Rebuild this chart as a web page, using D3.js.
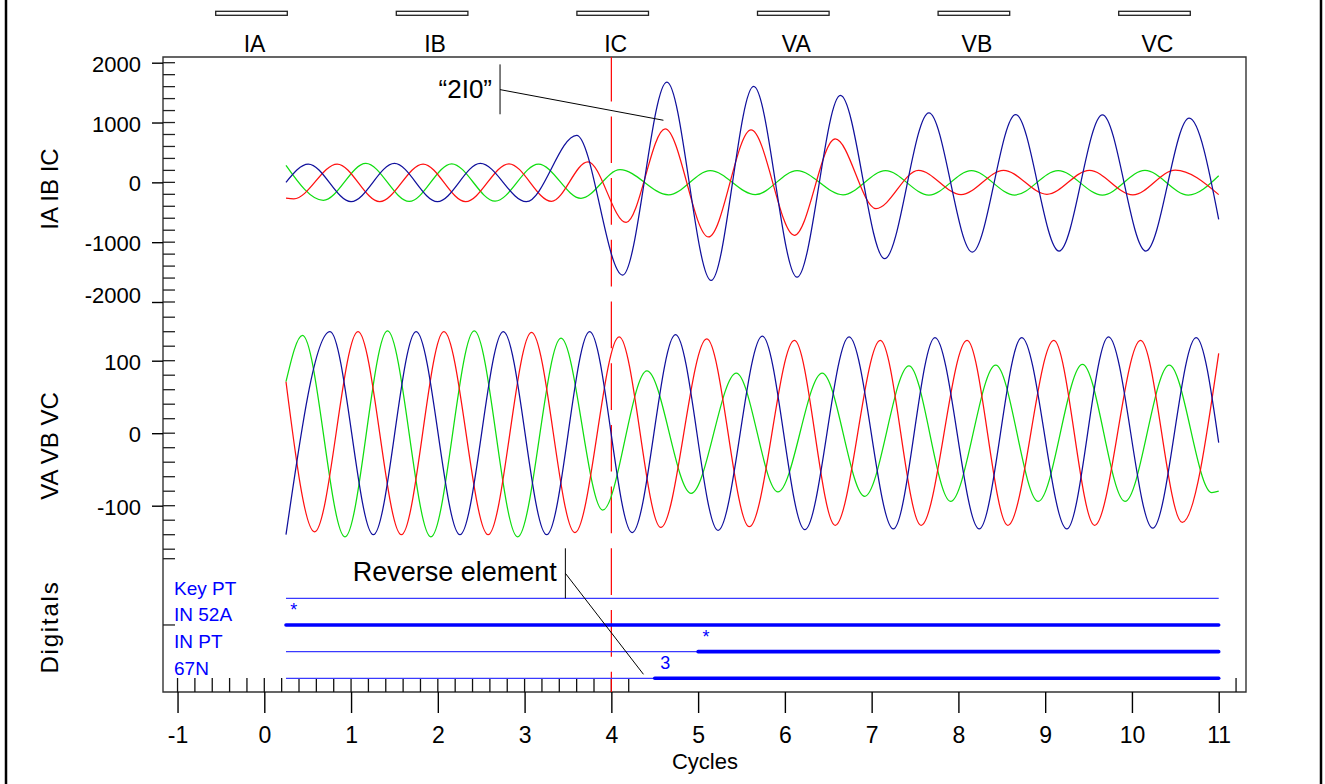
<!DOCTYPE html>
<html>
<head>
<meta charset="utf-8">
<script src="https://cdn.jsdelivr.net/npm/d3@7"></script>
<style>
  body { margin: 0; background: #fff; }
  svg { display: block; font-family: "Liberation Sans", Arial, sans-serif; }
</style>
</head>
<body>
<script>
const w = 1325;
const h = 784;

// channel names and tick labels
const legendLabels = ["IA", "IB", "IC", "VA", "VB", "VC"];
const currentTicks = [2000, 1000, 0, -1000, -2000];
const voltageTicks = [100, 0, -100];
const cycleTicks = [-1, 0, 1, 2, 3, 4, 5, 6, 7, 8, 9, 10, 11];
const digitalNames = ["Key PT", "IN 52A", "IN PT", "67N"];
const triggerCycle = 4;

// waveform peaks / troughs: [cycle, value]
const iaCurrent = [[0.25, -265], [0.34, -275], [0.84, 305], [1.33, -323], [1.83, 305], [2.32, -323],
  [2.82, 310], [3.31, -318], [3.73, 343], [4.17, -670], [4.62, 893], [5.12, -913], [5.61, 877],
  [6.11, -885], [6.58, 725], [7.05, -438], [7.54, 200], [8.03, -205], [8.52, 200], [9.02, -200],
  [9.51, 200], [10.01, -210], [10.5, 205], [11.0, -205]];
const ibCurrent = [[0.25, 285], [0.68, -300], [1.17, 316], [1.67, -320], [2.16, 310], [2.66, -315],
  [3.16, 305], [3.65, -267], [4.1, 212], [4.66, -208], [5.14, 195], [5.66, -205], [6.14, 195],
  [6.67, -208], [7.16, 195], [7.66, -212], [8.15, 195], [8.65, -212], [9.15, 195], [9.66, -212],
  [10.15, 200], [10.65, -212], [11.0, 110]];
const icCurrent = [[0.25, 0], [0.507, 305], [1.0, -323], [1.5, 316], [1.995, -323], [2.49, 316],
  [3.02, -323], [3.6, 787], [4.13, -1550], [4.64, 1677], [5.15, -1640], [5.64, 1603], [6.14, -1585],
  [6.64, 1452], [7.15, -1277], [7.66, 1162], [8.16, -1165], [8.66, 1133], [9.16, -1148],
  [9.66, 1128], [10.16, -1148], [10.66, 1072], [11.0, -617]];

const vaVoltage = [[0.25, 71], [0.58, -136], [1.08, 140], [1.58, -140], [2.07, 140], [2.58, -140],
  [3.08, 139], [3.58, -137], [4.09, 133], [4.57, -130], [5.1, 130], [5.59, -129], [6.11, 128],
  [6.58, -127], [7.1, 128], [7.57, -127], [8.1, 128], [8.57, -127], [9.1, 128], [9.57, -127],
  [10.1, 128], [10.58, -123], [11.0, 110]];
const vbVoltage = [[0.25, 71], [0.44, 135], [0.93, -143], [1.42, 141], [1.92, -143], [2.42, 141],
  [2.92, -143], [3.42, 131], [3.9, -106], [4.41, 86], [4.92, -83], [5.44, 83], [5.92, -81],
  [6.43, 83], [6.92, -87], [7.43, 93], [7.91, -94], [8.43, 94], [8.92, -94], [9.43, 95],
  [9.92, -94], [10.43, 94], [10.92, -82], [11.0, -80]];
const vcVoltage = [[0.25, -140], [0.757, 140], [1.257, -140], [1.75, 140], [2.255, -140],
  [2.755, 140], [3.255, -140], [3.75, 140], [4.24, -137], [4.74, 136], [5.23, -134], [5.74, 134],
  [6.23, -133], [6.74, 133], [7.25, -132], [7.73, 132], [8.24, -132], [8.73, 132], [9.25, -132],
  [9.73, 133], [10.24, -131], [10.74, 132], [11.0, -13]];

// digital elements: [from, to, asserted]
const digitalStates = [
  [[0.25, 11, 0]],
  [[0.25, 11, 1]],
  [[0.25, 5, 0], [5, 11, 1]],
  [[0.25, 4.5, 0], [4.5, 11, 1]]
];
const digitalMarks = [
  { name: "IN 52A", t: 0.34, text: "*" },
  { name: "IN PT", t: 5.09, text: "*" },
  { name: "67N", t: 4.62, text: "3" }
];

const plot = { left: 163, right: 1246, top: 57, bottom: 692 };
const waveColors = { a: "#ff1010", b: "#10dd10", c: "#10109c" };
const plainNumber = d => String(d);

const svg = d3
  .select("body")
  .append("svg")
  .attr("width", w)
  .attr("height", h);

svg.append("rect").attr("width", w).attr("height", h).attr("fill", "#fff");

const x = d3.scaleLinear().domain([0, 11]).range([264.3, 1218.7]);
const yI = d3.scaleLinear().domain([-2000, 2000]).range([302, 62.7]);
const yV = d3.scaleLinear().domain([-100, 100]).range([505.7, 360.7]);
const yD = d3.scalePoint().domain(digitalNames).range([598.3, 678.3]);

// outer page border
[6, 1321].forEach(px => {
  svg.append("line")
    .attr("x1", px).attr("x2", px).attr("y1", 0).attr("y2", h)
    .attr("stroke", "#000").attr("stroke-width", 2.5);
});

// top channel legend
const legend = svg.append("g").attr("id", "legend");
legend.selectAll("rect")
  .data(legendLabels)
  .enter()
  .append("rect")
  .attr("x", (d, i) => 215.7 + i * 180.6)
  .attr("y", 11.3)
  .attr("width", 71.6)
  .attr("height", 4)
  .attr("fill", "#fff")
  .attr("stroke", "#222")
  .attr("stroke-width", 1.3);
legend.selectAll("text")
  .data(legendLabels)
  .enter()
  .append("text")
  .attr("x", (d, i) => 254.5 + i * 180.6)
  .attr("y", 51.7)
  .attr("text-anchor", "middle")
  .style("font-size", "23px")
  .text(d => d);

// plot frame
svg.append("path")
  .attr("d", `M${plot.left},${plot.bottom}V${plot.top}H${plot.right}V${plot.bottom}Z`)
  .attr("fill", "none")
  .attr("stroke", "#333")
  .attr("stroke-width", 1.4);

// y axes
function leftAxis(scale, ticks) {
  const g = svg.append("g")
    .attr("transform", "translate(" + plot.left + ",0)")
    .call(d3.axisLeft(scale).tickValues(ticks).tickFormat(plainNumber)
      .tickSizeInner(11).tickSizeOuter(0).tickPadding(11));
  g.select(".domain").remove();
  g.selectAll("line").attr("stroke", "#000").attr("stroke-width", 1.4);
  g.selectAll("text").attr("dy", "0.39em").style("font-size", "22px").attr("fill", "#000");
  return g;
}
const currentAxis = leftAxis(yI, currentTicks);
currentAxis.selectAll("text").filter(d => d === -2000).attr("dy", "0.03em");
leftAxis(yV, voltageTicks);

const innerTicks = d3.range(-10, 11).map(i => yI(i * 200))
  .concat(d3.range(-8, 9).map(i => yV(i * 20)))
  .concat([yD("Key PT") - 39.6, yD("IN 52A")]);
svg.append("g")
  .selectAll("line")
  .data(innerTicks)
  .enter()
  .append("line")
  .attr("x1", plot.left)
  .attr("x2", plot.left + 12)
  .attr("y1", d => d)
  .attr("y2", d => d)
  .attr("stroke", "#222")
  .attr("stroke-width", 1.3);

// x axis
const xAxis = svg.append("g")
  .attr("transform", "translate(0," + plot.bottom + ")")
  .call(d3.axisBottom(x).tickValues(cycleTicks).tickFormat(plainNumber)
    .tickSizeInner(21).tickSizeOuter(0).tickPadding(14));
xAxis.select(".domain").remove();
xAxis.selectAll("line").attr("stroke", "#000").attr("stroke-width", 1.4);
xAxis.selectAll("text").style("font-size", "23px").attr("fill", "#000");

const innerCycleTicks = d3.range(-5, 22).map(i => i / 5).concat([11.2]);
svg.append("g")
  .selectAll("line")
  .data(innerCycleTicks)
  .enter()
  .append("line")
  .attr("x1", d => x(d))
  .attr("x2", d => x(d))
  .attr("y1", plot.bottom - 14)
  .attr("y2", plot.bottom)
  .attr("stroke", "#111")
  .attr("stroke-width", 1.3);

svg.append("text")
  .attr("x", 705)
  .attr("y", 769)
  .attr("text-anchor", "middle")
  .style("font-size", "22px")
  .text("Cycles");

// axis titles
[["IA IB IC", 189, 0], ["VA VB VC", 446, 0], ["Digitals", 627, 1.8]].forEach(([label, cy, ls]) => {
  svg.append("text")
    .attr("transform", "translate(58," + cy + ") rotate(-90)")
    .attr("text-anchor", "middle")
    .style("font-size", "24px")
    .style("letter-spacing", ls + "px")
    .text(label);
});

// trigger line
svg.append("line")
  .attr("x1", x(triggerCycle)).attr("x2", x(triggerCycle))
  .attr("y1", plot.bottom).attr("y2", plot.top)
  .attr("stroke", "#ff0000")
  .attr("stroke-width", 1.2)
  .attr("stroke-dasharray", "46.7,15")
  .attr("stroke-dashoffset", 26.4);

// waveforms
const lineI = d3.line().x(d => x(d[0])).y(d => yI(d[1])).curve(d3.curveMonotoneX);
const lineV = d3.line().x(d => x(d[0])).y(d => yV(d[1])).curve(d3.curveMonotoneX);

[[ibCurrent, waveColors.b, lineI], [iaCurrent, waveColors.a, lineI], [icCurrent, waveColors.c, lineI],
 [vbVoltage, waveColors.b, lineV], [vaVoltage, waveColors.a, lineV], [vcVoltage, waveColors.c, lineV]]
  .forEach(([data, color, gen]) => {
    svg.append("path")
      .datum(data)
      .attr("d", gen)
      .attr("fill", "none")
      .attr("stroke", color)
      .attr("stroke-width", 1.25);
  });

// digitals
digitalNames.forEach((name, i) => {
  svg.append("text")
    .attr("x", 174)
    .attr("y", yD(name) - 3.5)
    .attr("fill", "#0000ff")
    .style("font-size", "19px")
    .text(name);

  svg.append("g")
    .selectAll("line")
    .data(digitalStates[i])
    .enter()
    .append("line")
    .attr("x1", d => x(d[0]))
    .attr("x2", d => x(d[1]))
    .attr("y1", yD(name))
    .attr("y2", yD(name))
    .attr("stroke", d => (d[2] ? "#0000ff" : "#3a3aff"))
    .attr("stroke-width", d => (d[2] ? 3.6 : 1.2))
    .attr("stroke-linecap", d => (d[2] ? "round" : "butt"));
});

svg.append("g")
  .selectAll("text")
  .data(digitalMarks)
  .enter()
  .append("text")
  .attr("x", d => x(d.t))
  .attr("y", d => yD(d.name) - 9)
  .attr("text-anchor", "middle")
  .attr("fill", "#0000ff")
  .style("font-size", "18px")
  .text(d => d.text);

// callout "2I0"
const zx = x(2.717);
svg.append("line")
  .attr("x1", zx).attr("x2", zx).attr("y1", yI(1972)).attr("y2", yI(1138))
  .attr("stroke", "#000").attr("stroke-width", 1);
svg.append("line")
  .attr("x1", zx).attr("x2", x(4.6)).attr("y1", yI(1550)).attr("y2", yI(1038))
  .attr("stroke", "#000").attr("stroke-width", 1);
svg.append("text")
  .attr("x", zx - 8)
  .attr("y", 98)
  .attr("text-anchor", "end")
  .style("font-size", "26px")
  .text("\u201c2I0\u201d");

// callout reverse element
const rx = x(3.47);
svg.append("line")
  .attr("x1", rx).attr("x2", rx).attr("y1", yD("Key PT") - 50).attr("y2", yD("Key PT"))
  .attr("stroke", "#000").attr("stroke-width", 1);
svg.append("line")
  .attr("x1", rx).attr("x2", x(4.37)).attr("y1", yD("Key PT") - 25).attr("y2", yD("67N") - 4)
  .attr("stroke", "#000").attr("stroke-width", 1);
svg.append("text")
  .attr("x", rx - 8.6)
  .attr("y", 581)
  .attr("text-anchor", "end")
  .style("font-size", "27px")
  .text("Reverse element");
</script>
</body>
</html>
